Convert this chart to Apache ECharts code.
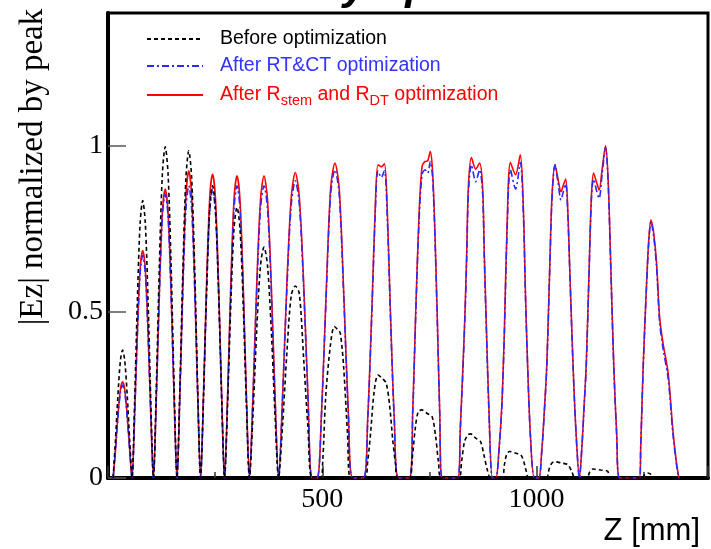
<!DOCTYPE html>
<html><head><meta charset="utf-8">
<script src="https://cdn.jsdelivr.net/npm/echarts@6/dist/echarts.min.js"></script>
<style>html,body{margin:0;padding:0;background:#fff}#c{width:711px;height:549px}</style>
</head><body><div id="c"></div>
<script>
// Z positions [mm] of the sampled points (shared by the two "after" curves)
const zAfter = [
  12, 17, 23, 29, 34, 39, 45, 51,
  56, 62, 68.5, 75, 81, 87, 93.5, 100,
  106, 112.6, 119.8, 126.9, 133.5, 140.1, 147.3, 154.4,
  161, 167.6, 174.8, 181.9, 188.5, 195.1, 202.3, 209.4,
  216, 222.7, 230, 237.3, 244, 250.7, 258, 265.3,
  272, 279, 286.5, 294, 301, 308, 315.5, 323,
  330, 338.2, 347, 355.8, 364, 372.2, 381, 389.8,
  398, 407.4, 417.5, 427.6, 437, 446.4, 456.5, 466.6, 476,
  488, 498, 508.8, 519.5, 529.5, 539.5, 550.3, 561, 571,
  596, 606, 616, 624, 630, 637.6, 645, 651, 659, 668, 678,
  703, 711, 718, 726, 733, 740, 746, 752, 757, 762, 768, 774, 780,
  816, 822, 828, 833, 837, 841, 848, 858, 867, 874, 878, 883, 889, 897,
  905, 912, 919, 925, 931, 939, 951, 962, 969, 974, 979, 986, 995,
  1005, 1012, 1018, 1024, 1031, 1036, 1043, 1050, 1057, 1062, 1068, 1073, 1077, 1085, 1092,
  1100, 1106, 1111, 1116, 1123, 1128, 1133, 1140, 1146, 1153, 1161, 1167, 1173, 1180, 1187, 1194,
  1240, 1243, 1249, 1257, 1262, 1267, 1273, 1280, 1287, 1295, 1307, 1318, 1326, 1332
];
// After R_stem and R_DT optimization (red)
const afterRstemVals = [
  0, .078, .186, .267, .29, .267, .186, .078,
  0, .185, .438, .63, .685, .63, .438, .185,
  0, .235, .557, .8, .87, .8, .557, .235,
  0, .25, .592, .851, .925, .851, .592, .25,
  0, .247, .586, .842, .915, .842, .586, .247,
  0, .246, .582, .837, .91, .837, .582, .246,
  0, .246, .582, .837, .91, .837, .582, .246,
  0, .248, .589, .846, .92, .846, .589, .248, 0,
  0, .19, .55, .872, .948, .872, .55, .19, 0,
  0, .18, .52, .83, .943, .937, .946, .83, .5, .18, 0,
  0, .2, .5, .8, .94, .953, .955, .983, .93, .777, .5, .2, 0,
  0, .15, .33, .5, .68, .88, .965, .93, .948, .877, .677, .45, .2, 0,
  0, .08, .22, .45, .75, .95, .913, .973, .82, .56, .345, .12, 0,
  0, .08, .2, .345, .647, .85, .943, .9, .862, .88, .9, .8, .647, .345, .14,
  0, .1, .22, .345, .647, .85, .918, .89, .867, .93, 1.0, .898, .647, .345, .13, 0,
  0, .094, .345, .596, .72, .777, .74, .647, .486, .406, .316, .145, .05, 0
];
// After RT&CT optimization (blue)
const afterRTCTVals = [
  0, .076, .179, .258, .28, .258, .179, .076,
  0, .181, .429, .616, .67, .616, .429, .181,
  0, .231, .547, .787, .855, .787, .547, .231,
  0, .238, .563, .81, .88, .81, .563, .238,
  0, .235, .557, .8, .87, .8, .557, .235,
  0, .238, .563, .81, .88, .81, .563, .238,
  0, .238, .563, .81, .88, .81, .563, .238,
  0, .242, .573, .823, .895, .823, .573, .242, 0,
  0, .186, .538, .854, .928, .854, .538, .186, 0,
  0, .175, .51, .81, .925, .905, .925, .81, .49, .175, 0,
  0, .195, .49, .78, .915, .928, .918, .953, .91, .76, .49, .195, 0,
  0, .147, .32, .49, .66, .86, .943, .892, .928, .86, .665, .44, .195, 0,
  0, .078, .215, .44, .735, .928, .87, .95, .8, .55, .34, .118, 0,
  0, .078, .196, .34, .64, .84, .943, .89, .837, .86, .886, .79, .64, .34, .137,
  0, .098, .215, .34, .64, .84, .9, .865, .842, .915, .995, .89, .64, .34, .128, 0,
  0, .092, .34, .59, .715, .772, .73, .635, .47, .39, .3, .135, .045, 0
];
// Before optimization (black dashed)
const zBefore = [
  12, 17, 23, 29, 34, 39, 45, 51,
  56, 62, 68.5, 75, 81, 87, 93.5, 100,
  106, 112.6, 119.8, 126.9, 133.5, 140.1, 147.3, 154.4,
  161, 167.6, 174.8, 181.9, 188.5, 195.1, 202.3, 209.4,
  216, 222.7, 230, 237.3, 244, 250.7, 258, 265.3,
  272, 279, 286.5, 294, 301, 308, 315.5, 323,
  330, 338.2, 347, 355.8, 364, 372.2, 381, 389.8,
  398, 407.4, 417.5, 427.6, 437, 446.4, 456.5, 466.6, 476,
  496, 501, 508, 519, 528, 535, 542, 550, 559, 566,
  599, 606, 613, 621, 630, 640, 649, 657, 664, 671, 676,
  703, 710, 717, 724, 732, 744, 756, 764, 771, 778,
  818, 825, 832, 840, 846, 858, 869, 877, 885, 893,
  919, 925, 930, 937, 950, 963, 970, 976, 982,
  1022, 1030, 1036, 1043, 1058, 1073, 1082, 1090,
  1117, 1124, 1131, 1150, 1166, 1172,
  1246, 1252, 1258, 1266, 1272
];
const beforeVals = [
  0, .104, .246, .354, .385, .354, .246, .104,
  0, .225, .534, .768, .835, .768, .534, .225,
  0, .269, .638, .917, .997, .917, .638, .269,
  0, .266, .63, .906, .985, .906, .63, .266,
  0, .238, .563, .81, .88, .81, .563, .238,
  0, .22, .522, .75, .815, .75, .522, .22,
  0, .188, .445, .639, .695, .639, .445, .188,
  0, .16, .38, .55, .578, .555, .36, .15, 0,
  0, .05, .245, .4, .456, .448, .436, .33, .13, 0,
  0, .05, .14, .26, .31, .3, .286, .22, .12, .04, 0,
  0, .06, .15, .2, .205, .195, .185, .13, .05, 0,
  0, .05, .11, .13, .133, .12, .11, .07, .025, 0,
  0, .04, .07, .08, .075, .07, .05, .02, 0,
  0, .03, .045, .049, .045, .04, .02, 0,
  0, .018, .027, .024, .02, 0,
  0, .01, .015, .012, 0
];
const xTickLabels = [500, 1000];
const yTickLabels = [0, 0.5, 1];
const seriesNames = ['Before optimization', 'After RT&CT optimization', 'After Rstem and RDT optimization'];

const serif = 'Liberation Serif';
const sans = 'Liberation Sans';
const chart = echarts.init(document.getElementById('c'));
const mk = (zs, vs) => zs.map((z, i) => [z, vs[i]]);
const legendBase = {
  orient: 'horizontal', itemWidth: 56, itemHeight: 14, selectedMode: false, padding: 0,
  itemStyle: { opacity: 0 }
};
chart.setOption({
  animation: false,
  backgroundColor: '#fff',
  grid: { left: 108, top: 13, width: 610, height: 465, show: true, borderColor: '#000', borderWidth: 3, backgroundColor: 'transparent' },
  xAxis: {
    type: 'value', min: 0, max: 1400, interval: 500,
    axisLine: { lineStyle: { color: '#000', width: 4 } },
    axisTick: { inside: true, length: 12, lineStyle: { color: '#333', width: 1.5 } },
    minorTick: { show: true, splitNumber: 2, length: 6, lineStyle: { color: '#333', width: 1.5 } },
    splitLine: { show: false },
    axisLabel: {
      fontFamily: serif, fontSize: 28, color: '#000', margin: 8, showMinLabel: false,
      formatter: v => xTickLabels.includes(v) ? String(v) : ''
    }
  },
  yAxis: {
    type: 'value', min: 0, max: 1.4, interval: 0.5,
    axisLine: { lineStyle: { color: '#000', width: 4 } },
    axisTick: { inside: true, length: 18, lineStyle: { color: '#555', width: 1.5 } },
    splitLine: { show: false },
    axisLabel: {
      fontFamily: serif, fontSize: 28, color: '#000', margin: 5, showMaxLabel: false,
      formatter: v => yTickLabels.includes(v) ? String(v) : ''
    }
  },
  legend: [
    Object.assign({}, legendBase, { data: [seriesNames[0]], left: 146, top: 29,
      textStyle: { fontFamily: sans, fontSize: 19.5, color: '#000', padding: [0, 0, 0, 12] } }),
    Object.assign({}, legendBase, { data: [seriesNames[1]], left: 146, top: 56,
      textStyle: { fontFamily: sans, fontSize: 19.5, color: '#3333ff', padding: [0, 0, 0, 12] } }),
    Object.assign({}, legendBase, { data: [seriesNames[2]], left: 146, top: 85,
      formatter: () => '{m|After R}{s|stem}{m| and R}{s|DT}{m| optimization}',
      textStyle: { fontFamily: sans, fontSize: 19.5, color: '#ff0000', padding: [0, 0, 0, 12],
        rich: {
          m: { fontFamily: sans, fontSize: 19.5, color: '#ff0000', lineHeight: 26, verticalAlign: 'middle' },
          s: { fontFamily: sans, fontSize: 14.5, color: '#ff0000', lineHeight: 26, verticalAlign: 'bottom' }
        } } })
  ],
  graphic: [
    { type: 'text', x: 33, y: 167, rotation: Math.PI / 2,
      style: { text: '|Ez| normalized by peak', fontFamily: serif, fontSize: 33, fill: '#000', align: 'center', verticalAlign: 'middle' } },
    { type: 'text', x: 700, y: 531,
      style: { text: 'Z [mm]', fontFamily: sans, fontSize: 31, fill: '#000', align: 'right', verticalAlign: 'middle' } },
    { type: 'text', x: 30, y: -13,
      style: { text: 'Field flatness by optimization', fontFamily: sans, fontSize: 43, fontWeight: 'bold', fontStyle: 'italic', fill: '#000', align: 'left', verticalAlign: 'middle' } }
  ],
  series: [
    { type: 'line', name: seriesNames[2], data: mk(zAfter, afterRstemVals), symbol: 'none', smooth: 0.3,
      lineStyle: { color: '#ff0000', width: 1.6 }, itemStyle: { color: '#ff0000' }, z: 2 },
    { type: 'line', name: seriesNames[1], data: mk(zAfter, afterRTCTVals), symbol: 'none', smooth: 0.3,
      lineStyle: { color: '#2a2aff', width: 1.6, type: [7, 3, 2, 3] }, itemStyle: { color: '#2a2aff' }, z: 3 },
    { type: 'line', name: seriesNames[0], data: mk(zBefore, beforeVals), symbol: 'none', smooth: 0.3,
      lineStyle: { color: '#000', width: 1.6, type: [4, 3] }, itemStyle: { color: '#000' }, z: 4 }
  ]
});
</script></body></html>
